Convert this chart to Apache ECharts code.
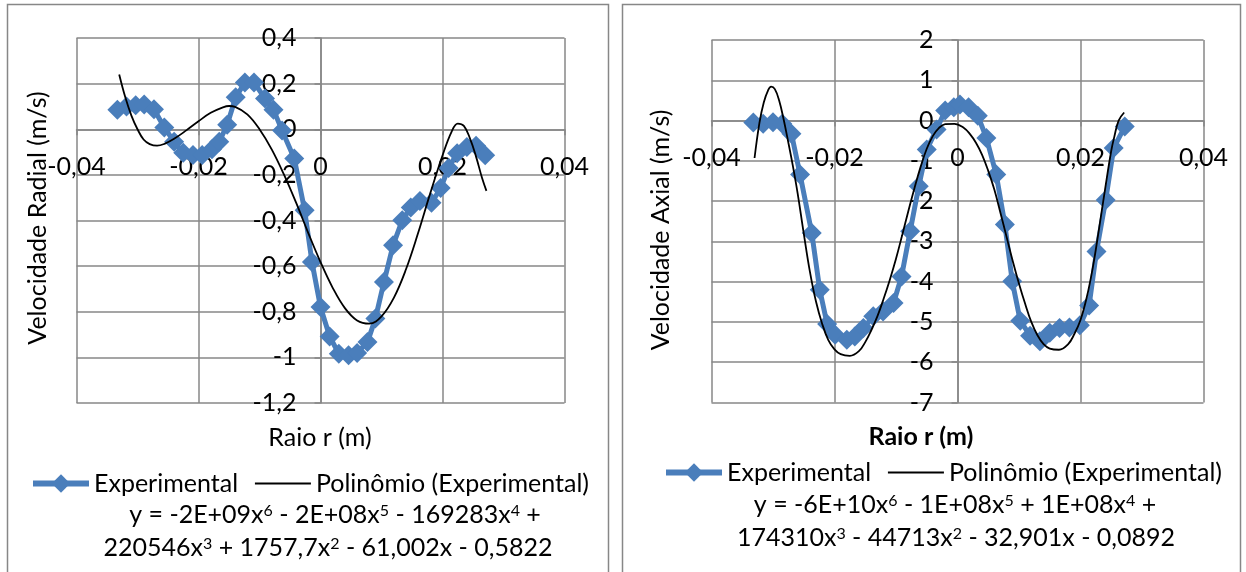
<!DOCTYPE html>
<html>
<head>
<meta charset="utf-8">
<script src="https://cdn.jsdelivr.net/npm/echarts@6/dist/echarts.min.js"></script>
<style>
  html, body { margin: 0; padding: 0; background: #fff; }
  #chart { width: 1246px; height: 572px; }
</style>
</head>
<body>
<div id="chart"></div>
<script>
// ---- Radial velocity profile (r in m, v in m/s) ----
const radialR = [-0.0333, -0.0318, -0.0303, -0.0289, -0.0273, -0.0256, -0.0240, -0.0225, -0.0209, -0.0194,
  -0.0178, -0.0166, -0.0153, -0.0139, -0.0124, -0.0109, -0.0091, -0.0077, -0.0063, -0.0043,
  -0.0026, -0.0014, 0.0000, 0.0015, 0.0030, 0.0046, 0.0060, 0.0077, 0.0090, 0.0104,
  0.0119, 0.0134, 0.0148, 0.0163, 0.0182, 0.0197, 0.0210, 0.0224, 0.0240, 0.0255, 0.0270];
const radialV = [0.085, 0.100, 0.105, 0.108, 0.088, 0.008, -0.055, -0.103, -0.113, -0.113,
  -0.088, -0.055, 0.020, 0.140, 0.205, 0.205, 0.135, 0.085, -0.005, -0.128,
  -0.355, -0.582, -0.779, -0.908, -0.984, -0.991, -0.981, -0.933, -0.830, -0.670,
  -0.508, -0.399, -0.343, -0.315, -0.322, -0.258, -0.170, -0.105, -0.078, -0.072, -0.114];

// 6th-order polynomial trendline of the radial profile
const radialFitR = [-0.0330, -0.0320, -0.0310, -0.0300, -0.0290, -0.0280, -0.0268, -0.0255, -0.0240, -0.0220,
  -0.0200, -0.0180, -0.0160, -0.0150, -0.0140, -0.0120, -0.0100, -0.0080, -0.0060, -0.0040,
  -0.0020, 0.0000, 0.0020, 0.0040, 0.0060, 0.0080, 0.0100, 0.0120, 0.0140, 0.0160,
  0.0180, 0.0200, 0.0215, 0.0225, 0.0235, 0.0245, 0.0255, 0.0265, 0.0272];
const radialFitV = [0.240, 0.140, 0.060, 0.000, -0.045, -0.065, -0.072, -0.063, -0.042, -0.005,
  0.035, 0.072, 0.096, 0.102, 0.098, 0.065, 0.000, -0.088, -0.198, -0.322,
  -0.455, -0.582, -0.695, -0.784, -0.838, -0.852, -0.820, -0.740, -0.615, -0.455,
  -0.280, -0.115, -0.010, 0.025, 0.015, -0.040, -0.120, -0.215, -0.270];

// ---- Axial velocity profile (r in m, v in m/s) ----
const axialR = [-0.0332, -0.0316, -0.0300, -0.0285, -0.0270, -0.0256, -0.0237, -0.0224, -0.0212, -0.0199,
  -0.0180, -0.0167, -0.0153, -0.0137, -0.0121, -0.0104, -0.0091, -0.0077, -0.0063, -0.0050,
  -0.0034, -0.0020, -0.0006, 0.0004, 0.0018, 0.0033, 0.0047, 0.0063, 0.0077, 0.0089,
  0.0102, 0.0118, 0.0134, 0.0150, 0.0166, 0.0182, 0.0199, 0.0214, 0.0226, 0.0241, 0.0254, 0.0272];
const axialV = [-0.05, -0.08, -0.04, -0.08, -0.33, -1.34, -2.79, -4.20, -5.05, -5.32,
  -5.44, -5.36, -5.15, -4.86, -4.74, -4.53, -3.87, -2.75, -1.63, -0.72,
  -0.22, 0.25, 0.33, 0.40, 0.33, 0.12, -0.43, -1.34, -2.58, -3.99,
  -4.97, -5.34, -5.48, -5.27, -5.15, -5.14, -5.08, -4.59, -3.25, -1.97, -0.68, -0.15];

// 6th-order polynomial trendline of the axial profile
const axialFitR = [-0.0330, -0.0322, -0.0315, -0.0308, -0.0303, -0.0297, -0.0290, -0.0283, -0.0275, -0.0268,
  -0.0260, -0.0250, -0.0240, -0.0230, -0.0220, -0.0210, -0.0200, -0.0190, -0.0175, -0.0160,
  -0.0150, -0.0140, -0.0130, -0.0120, -0.0110, -0.0100, -0.0090, -0.0080, -0.0070, -0.0060,
  -0.0050, -0.0040, -0.0030, -0.0020, -0.0005, 0.0010, 0.0020, 0.0030, 0.0040, 0.0050,
  0.0060, 0.0070, 0.0080, 0.0090, 0.0100, 0.0110, 0.0120, 0.0130, 0.0140, 0.0150,
  0.0165, 0.0180, 0.0190, 0.0200, 0.0210, 0.0220, 0.0230, 0.0240, 0.0250, 0.0255, 0.0262, 0.0271];
const axialFitV = [-0.93, -0.05, 0.45, 0.75, 0.84, 0.78, 0.50, 0.05, -0.55, -1.10,
  -1.80, -2.80, -3.75, -4.50, -5.05, -5.45, -5.68, -5.80, -5.84, -5.72,
  -5.50, -5.20, -4.85, -4.42, -3.95, -3.43, -2.85, -2.25, -1.68, -1.15,
  -0.70, -0.38, -0.18, -0.09, -0.08, -0.18, -0.33, -0.55, -0.85, -1.25,
  -1.72, -2.30, -2.90, -3.50, -4.05, -4.55, -5.00, -5.33, -5.55, -5.66,
  -5.69, -5.55, -5.30, -4.95, -4.40, -3.65, -2.70, -1.70, -0.75, -0.40, 0.00, 0.20];

// ---- Tick labels (decimal comma) ----
const rTickLabels = ['-0,04', '-0,02', '0', '0,02', '0,04'];
const radialTickLabels = ['-1,2', '-1', '-0,8', '-0,6', '-0,4', '-0,2', '0', '0,2', '0,4'];
const axialTickLabels = ['-7', '-6', '-5', '-4', '-3', '-2', '-1', '0', '1', '2'];

const seriesNames = ['Experimental', 'Polinômio (Experimental)'];

const FONT = 'Lato, "Open Sans", sans-serif';
const FS = 25;
const GRID_GRAY = '#878787';
const BLUE = '#4a7ebb';

const zip = (xs, ys) => xs.map((x, i) => [x, ys[i]]);

function tickFormatter(labels, min, step) {
  return v => labels[Math.round((v - min) / step)] ?? '';
}

function valueAxis(gridIndex, min, max, step, labels, isX) {
  return {
    type: 'value', gridIndex, min, max, interval: step,
    position: isX ? 'bottom' : 'left',
    offset: 0,
    axisLine: { show: true, onZero: false, lineStyle: { color: GRID_GRAY, width: 1.5 } },
    axisTick: { show: true, length: 6, lineStyle: { color: GRID_GRAY, width: 1.5 } },
    splitLine: { show: true, showMinLine: true, showMaxLine: true, lineStyle: { color: GRID_GRAY, width: 1.5 } },
    axisLabel: {
      show: true, hideOverlap: false, showMinLabel: true, showMaxLabel: true,
      margin: isX ? 25 : 24,
      color: '#000', fontFamily: FONT, fontSize: FS,
      formatter: tickFormatter(labels, min, step)
    }
  };
}

function measured(name, idx, xs, ys) {
  return {
    name, type: 'line', xAxisIndex: idx, yAxisIndex: idx,
    data: zip(xs, ys),
    symbol: 'diamond', symbolSize: 20, showSymbol: true,
    lineStyle: { color: BLUE, width: 5 },
    itemStyle: { color: BLUE },
    z: 2, animation: false
  };
}

function trend(name, idx, xs, ys) {
  return {
    name, type: 'line', xAxisIndex: idx, yAxisIndex: idx,
    data: zip(xs, ys),
    smooth: 0.4, symbol: 'none',
    lineStyle: { color: '#000', width: 1.8 },
    itemStyle: { color: '#000' },
    z: 3, animation: false
  };
}

function text(x, y, str, extra) {
  return Object.assign({
    type: 'text', x, y, silent: true,
    style: Object.assign({
      text: str, fill: '#000', fontFamily: FONT, fontSize: FS,
      align: 'center', verticalAlign: 'middle',
      textAlign: 'center', textVerticalAlign: 'middle'
    }, extra && extra.style)
  }, extra && extra.el);
}

const supRich = {
  s: { fontSize: 16, fontFamily: FONT, fill: '#000', verticalAlign: 'top' }
};

function equation(x, y, str) {
  return text(x, y, str, { style: { rich: supRich } });
}

function legend(left, top) {
  return {
    left, top, orient: 'horizontal',
    itemWidth: 56, itemHeight: 23, itemGap: 16,
    textStyle: { fontFamily: FONT, fontSize: FS, color: '#000' },
    data: [
      { name: seriesNames[0], lineStyle: { width: 6, color: BLUE } },
      { name: seriesNames[1], itemStyle: { opacity: 0 }, lineStyle: { width: 1.8, color: '#000' } }
    ],
    selectedMode: false
  };
}

const chart = echarts.init(document.getElementById('chart'), null, { renderer: 'canvas' });

chart.setOption({
  backgroundColor: '#fff',
  animation: false,
  grid: [
    { left: 76.5, top: 38, width: 488, height: 365, outerBoundsMode: 'none', containLabel: false },
    { left: 711.5, top: 40, width: 492, height: 362.5, outerBoundsMode: 'none', containLabel: false }
  ],
  xAxis: [
    valueAxis(0, -0.04, 0.04, 0.02, rTickLabels, true),
    valueAxis(1, -0.04, 0.04, 0.02, rTickLabels, true)
  ],
  yAxis: [
    valueAxis(0, -1.2, 0.4, 0.2, radialTickLabels, false),
    valueAxis(1, -7, 2, 1, axialTickLabels, false)
  ],
  legend: [legend(25, 466), legend(658, 455)],
  series: [
    measured(seriesNames[0], 0, radialR, radialV),
    trend(seriesNames[1], 0, radialFitR, radialFitV),
    measured(seriesNames[0], 1, axialR, axialV),
    trend(seriesNames[1], 1, axialFitR, axialFitV)
  ],
  graphic: [
    // chart frames
    { type: 'rect', silent: true, shape: { x: 7.5, y: 4.5, width: 601, height: 620 }, style: { fill: null, stroke: GRID_GRAY, lineWidth: 1.5 } },
    { type: 'rect', silent: true, shape: { x: 622.5, y: 4.5, width: 618, height: 620 }, style: { fill: null, stroke: GRID_GRAY, lineWidth: 1.5 } },
    // axis titles
    text(38, 218, 'Velocidade Radial (m/s)', { el: { rotation: Math.PI / 2 } }),
    text(320, 438, 'Raio r (m)'),
    text(661, 230, 'Velocidade Axial (m/s)', { el: { rotation: Math.PI / 2 } }),
    text(921, 437, 'Raio r (m)', { style: { fontWeight: 'bold' } }),
    // trendline equations
    equation(335, 515, 'y = -2E+09x{s|6} - 2E+08x{s|5} - 169283x{s|4} +'),
    equation(328, 548, '220546x{s|3} + 1757,7x{s|2} - 61,002x - 0,5822'),
    equation(955, 505, 'y = -6E+10x{s|6} - 1E+08x{s|5} + 1E+08x{s|4} +'),
    equation(956, 538, '174310x{s|3} - 44713x{s|2} - 32,901x - 0,0892')
  ]
});

// Let both axes of each plot cross at the origin: shift them from the
// plot edges to where the other axis has the value 0.
function crossAtOrigin(idx, xMin, yMin) {
  const corner = chart.convertToPixel({ gridIndex: idx }, [xMin, yMin]);
  const origin = chart.convertToPixel({ gridIndex: idx }, [0, 0]);
  return {
    x: { offset: origin[1] - corner[1] },
    y: { offset: corner[0] - origin[0] }
  };
}
const c0 = crossAtOrigin(0, -0.04, -1.2);
const c1 = crossAtOrigin(1, -0.04, -7);
chart.setOption({
  xAxis: [c0.x, c1.x],
  yAxis: [c0.y, c1.y]
});
</script>
</body>
</html>
